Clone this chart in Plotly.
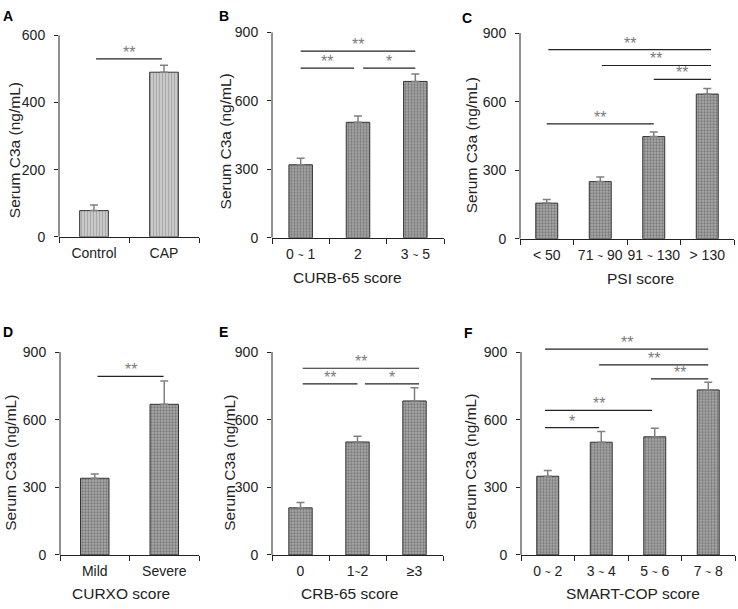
import plotly.graph_objects as go

# ---------------- data ----------------
A_cats = ["Control", "CAP"]
A_vals = [78, 490]
A_err = [17, 21]

B_cats = ["0 ~ 1", "2", "3 ~ 5"]
B_vals = [320, 506, 685]
B_err = [28, 27, 33]

C_cats = ["< 50", "71 ~ 90", "91 ~ 130", "> 130"]
C_vals = [156, 250, 447, 633]
C_err = [16, 20, 20, 24]

D_cats = ["Mild", "Severe"]
D_vals = [340, 668]
D_err = [19, 104]

E_cats = ["0", "1~2", "≥3"]
E_vals = [209, 501, 683]
E_err = [24, 25, 59]

F_cats = ["0 ~ 2", "3 ~ 4", "5 ~ 6", "7 ~ 8"]
F_vals = [349, 500, 524, 732]
F_err = [26, 47, 38, 34]

# significance brackets: (from category index, to category index, level, label)
A_sig = [(0.03, 0.97, 530, "**")]
B_sig = [(0.0, 2.0, 818, "**"), (0.0, 0.93, 743, "**"), (1.09, 2.0, 743, "*")]
C_sig = [(0.03, 3.07, 827, "**"), (1.03, 3.07, 758, "**"), (2.0, 3.07, 697, "**"),
         (0.0, 2.0, 503, "**")]
D_sig = [(0.04, 0.99, 792, "**")]
E_sig = [(0.04, 2.08, 828, "**"), (0.04, 1.0, 759, "**"), (1.13, 2.08, 759, "*")]
F_sig = [(-0.05, 3.0, 913, "**"), (0.96, 3.0, 843, "**"), (1.93, 3.0, 781, "**"),
         (-0.05, 1.95, 641, "**"), (-0.05, 0.96, 565, "*")]

W, H = 738, 609
FONT = "Liberation Sans, Arial, sans-serif"
TXT = "#222222"

panels = [
    dict(letter="A", cats=A_cats, vals=A_vals, err=A_err, sig=A_sig, xtitle=None,
         px=(59, 199), py0=235, pytop=28, ytop=600, rng=600, stripes=True,
         letter_pos=(1, 8), ytitle_pos=(14, 146), xtitle_pos=None),
    dict(letter="B", cats=B_cats, vals=B_vals, err=B_err, sig=B_sig, xtitle="CURB-65 score",
         px=(272, 444), py0=236, pytop=25, ytop=900, rng=900, stripes=False,
         letter_pos=(217, 8), ytitle_pos=(225, 137), xtitle_pos=(347, 277)),
    dict(letter="C", cats=C_cats, vals=C_vals, err=C_err, sig=C_sig, xtitle="PSI score",
         px=(520, 734), py0=237, pytop=25.7, ytop=900, rng=900, stripes=False,
         letter_pos=(460, 10), ytitle_pos=(471, 141), xtitle_pos=(640, 278)),
    dict(letter="D", cats=D_cats, vals=D_vals, err=D_err, sig=D_sig, xtitle="CURXO score",
         px=(60, 199), py0=561.7, pytop=353.3, ytop=900, rng=900, stripes=False,
         letter_pos=(1, 333), ytitle_pos=(11, 467), xtitle_pos=(121, 601)),
    dict(letter="E", cats=E_cats, vals=E_vals, err=E_err, sig=E_sig, xtitle="CRB-65 score",
         px=(272, 443), py0=561.7, pytop=353.3, ytop=900, rng=900, stripes=False,
         letter_pos=(217, 333), ytitle_pos=(230, 467), xtitle_pos=(349, 601)),
    dict(letter="F", cats=F_cats, vals=F_vals, err=F_err, sig=F_sig, xtitle="SMART-COP score",
         px=(521, 735), py0=561.7, pytop=353.3, ytop=900, rng=950, stripes=False,
         letter_pos=(462, 334), ytitle_pos=(471, 466), xtitle_pos=(633, 601)),
]


def tick_fmt(s):
    return s.replace("~", "<span style='font-size:10px'>~</span>")


fig = go.Figure()
shapes = []
annotations = []
layout = {}

for i, p in enumerate(panels, start=1):
    xa = "x" if i == 1 else f"x{i}"
    ya = "y" if i == 1 else f"y{i}"
    n = len(p["cats"])
    if p["stripes"]:
        pattern = dict(shape="|", fgcolor="#8a8a8a", bgcolor="#c8c8c8", size=3, solidity=0.35)
        col = "#c8c8c8"
    else:
        pattern = dict(shape=".", fgcolor="#4a4a4a", bgcolor="#a8a8a8", size=3, solidity=0.45)
        col = "#a8a8a8"
    fig.add_trace(go.Bar(
        x=p["cats"], y=p["vals"], xaxis=xa, yaxis=ya, width=0.41,
        marker=dict(color=col, pattern=pattern, line=dict(color="#333333", width=1)),
        error_y=dict(type="data", symmetric=False, array=p["err"], arrayminus=[0] * n,
                     color="#808080", thickness=1.5, width=4),
        showlegend=False, hoverinfo="skip",
    ))

    x0, x1 = p["px"]
    ybot = 1 - p["py0"] / H
    top_pix = p["py0"] - (p["py0"] - p["pytop"]) * p["rng"] / p["ytop"]
    ytopd = 1 - top_pix / H
    key_x = "xaxis" if i == 1 else f"xaxis{i}"
    key_y = "yaxis" if i == 1 else f"yaxis{i}"
    layout[key_x] = dict(
        domain=[x0 / W, x1 / W], anchor=ya, type="category",
        range=[-0.5, n - 0.5], showline=True, linecolor="#222222", linewidth=1,
        ticks="outside", tickson="boundaries", ticklen=5, tickcolor="#222222",
        tickvals=p["cats"], ticktext=[tick_fmt(c) for c in p["cats"]], tickangle=0,
        tickfont=dict(family=FONT, size=14, color=TXT), ticklabelstandoff=3,
        showgrid=False, zeroline=False, fixedrange=True,
    )
    layout[key_y] = dict(
        domain=[ybot, ytopd], anchor=xa, range=[0, p["rng"]],
        tickvals=[p["ytop"] * k / 3 for k in range(4)] if p["ytop"] == 900 else [0, 200, 400, 600],
        showline=False, ticks="outside", ticklen=4, tickcolor="#222222",
        tickfont=dict(family=FONT, size=14, color=TXT), ticklabelstandoff=6,
        showgrid=False, zeroline=False, fixedrange=True,
    )
    # y axis line
    shapes.append(dict(type="line", xref=f"{xa} domain", yref=ya, x0=0, x1=0,
                       y0=0, y1=p["ytop"], line=dict(color="#222222", width=1)))
    # significance brackets
    for (a, b, lv, lab) in p["sig"]:
        shapes.append(dict(type="line", xref=xa, yref=ya, x0=a, x1=b, y0=lv, y1=lv,
                           line=dict(color="#222222", width=1.2)))
        annotations.append(dict(x=(a + b) / 2, y=lv, xref=xa, yref=ya, text=lab,
                                showarrow=False, yanchor="bottom", yshift=-4,
                                font=dict(family=FONT, size=16, color="#7a7a7a")))
    # panel letter
    lx, ly = p["letter_pos"]
    annotations.append(dict(x=lx / W, y=1 - ly / H, xref="paper", yref="paper",
                            text=f"<b>{p['letter']}</b>", showarrow=False,
                            xanchor="left", yanchor="middle",
                            font=dict(family=FONT, size=14, color="#000000")))
    # y title
    tx, ty = p["ytitle_pos"]
    annotations.append(dict(x=tx / W, y=1 - ty / H, xref="paper", yref="paper",
                            text="Serum C3a (ng/mL)", textangle=-90, showarrow=False,
                            xanchor="center", yanchor="middle",
                            font=dict(family=FONT, size=15.5, color=TXT)))
    if p["xtitle"]:
        tx, ty = p["xtitle_pos"]
        annotations.append(dict(x=tx / W, y=1 - ty / H, xref="paper", yref="paper",
                                text=p["xtitle"], showarrow=False,
                                xanchor="center", yanchor="middle",
                                font=dict(family=FONT, size=15.5, color=TXT)))

fig.update_layout(
    width=W, height=H, autosize=False,
    margin=dict(l=0, r=0, t=0, b=0),
    paper_bgcolor="white", plot_bgcolor="white",
    shapes=shapes, annotations=annotations, bargap=0.0,
    **layout,
)

fig.write_html("out.html", config={"displayModeBar": False, "staticPlot": True},
               post_script="document.body.style.margin='0';document.body.style.overflow='hidden';")
